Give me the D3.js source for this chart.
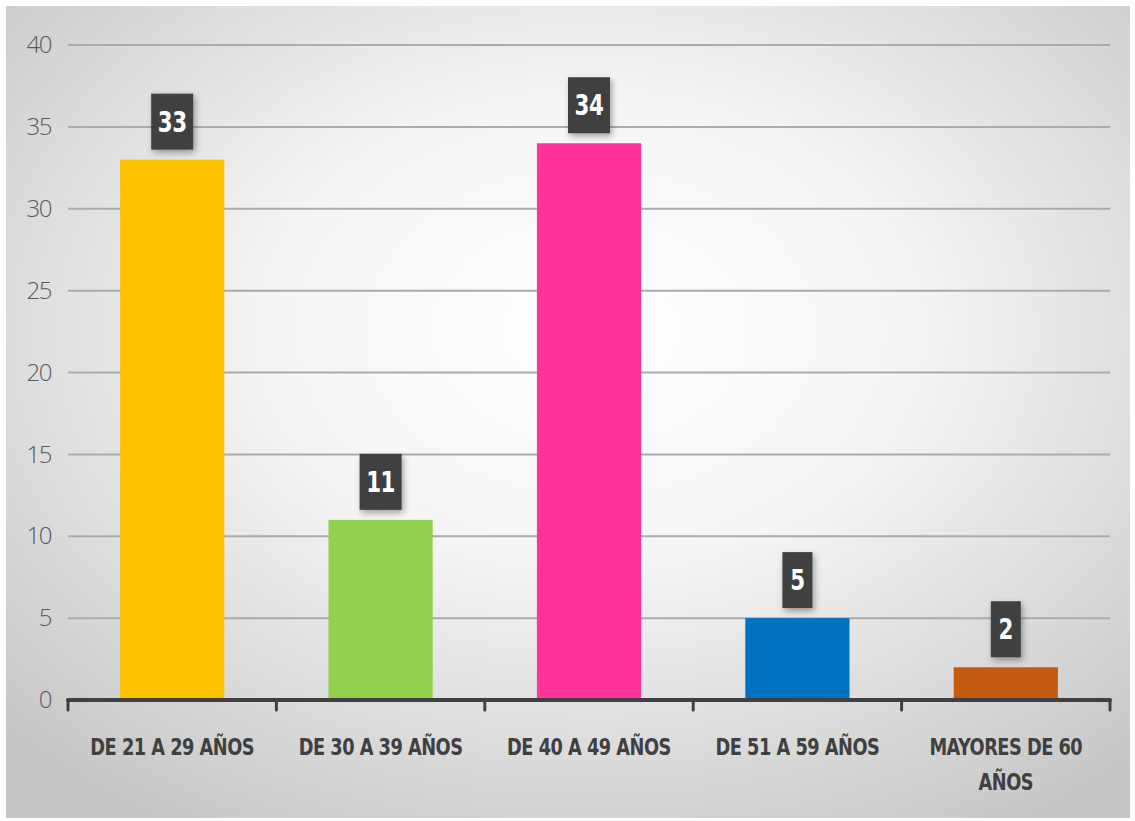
<!DOCTYPE html>
<html>
<head>
<meta charset="utf-8">
<script src="https://cdn.jsdelivr.net/npm/d3@7"></script>
<style>
  body { margin: 0; background: #fff; }
  svg { display: block; }
</style>
</head>
<body>
<div id="d3-container"></div>
<script>
const categories = ["DE 21 A 29 AÑOS", "DE 30 A 39 AÑOS", "DE 40 A 49 AÑOS", "DE 51 A 59 AÑOS", "MAYORES DE 60 AÑOS"];
const values = [33, 11, 34, 5, 2];
const barColors = ["#FFC000", "#92D050", "#FF3399", "#0070C0", "#C55A11"];
const yTicks = [0, 5, 10, 15, 20, 25, 30, 35, 40];

const W = 1135, H = 821;
const mLeft = 68, mRight = 1110, mTop = 45, mBottom = 700;
const condensed = "'Liberation Sans Narrow', 'DejaVu Sans Condensed', 'Open Sans', sans-serif";

const svg = d3.select("#d3-container")
  .append("svg")
  .attr("width", W)
  .attr("height", H);

const defs = svg.append("defs");
const bg = defs.append("radialGradient").attr("id", "bg")
  .attr("cx", "52%").attr("cy", "40%").attr("r", "72%");
bg.append("stop").attr("offset", "0%").attr("stop-color", "#ffffff");
bg.append("stop").attr("offset", "40%").attr("stop-color", "#f5f5f5");
bg.append("stop").attr("offset", "100%").attr("stop-color", "#c6c6c6");

const shadow = defs.append("filter").attr("id", "shadow")
  .attr("x", "-40%").attr("y", "-40%").attr("width", "180%").attr("height", "180%");
shadow.append("feDropShadow").attr("dx", 2).attr("dy", 3).attr("stdDeviation", 3)
  .attr("flood-color", "#000").attr("flood-opacity", 0.35);

svg.append("rect")
  .attr("x", 6).attr("y", 6).attr("width", W - 11).attr("height", H - 9)
  .attr("fill", "url(#bg)");

const x = d3.scaleBand().domain(categories).range([mLeft, mRight]).paddingInner(0).paddingOuter(0);
const y = d3.scaleLinear().domain([0, 40]).range([mBottom, mTop]);

// gridlines
svg.append("g")
  .selectAll("line")
  .data(yTicks.filter(d => d > 0))
  .join("line")
  .attr("x1", mLeft).attr("x2", mRight)
  .attr("y1", d => y(d)).attr("y2", d => y(d))
  .attr("stroke", "#ababab")
  .attr("stroke-width", 2);

// y axis labels
const yAxis = d3.axisLeft(y).tickValues(yTicks).tickSize(0).tickPadding(0);
const gy = svg.append("g").attr("transform", `translate(${mLeft - 17},0)`).call(yAxis);
gy.select(".domain").remove();
gy.selectAll("text")
  .style("font-family", "'Open Sans', sans-serif")
  .style("font-weight", "300")
  .style("font-size", "24px")
  .style("letter-spacing", "-1.5px")
  .attr("fill", "#595959");

// bars
const bw = x.bandwidth() * 0.5;
svg.append("g")
  .selectAll("rect")
  .data(values)
  .join("rect")
  .attr("x", (d, i) => x(categories[i]) + (x.bandwidth() - bw) / 2)
  .attr("y", d => y(d))
  .attr("width", bw)
  .attr("height", d => mBottom - y(d))
  .attr("fill", (d, i) => barColors[i]);

// x axis
const xAxis = d3.axisBottom(x).tickSize(0).tickFormat("");
const gx = svg.append("g").attr("transform", `translate(0,${mBottom})`).call(xAxis);
gx.select(".domain").remove();
gx.append("line")
  .attr("x1", mLeft).attr("x2", mRight).attr("y1", 0).attr("y2", 0)
  .attr("stroke", "#404040").attr("stroke-width", 4).attr("stroke-linecap", "round");
const bounds = categories.map(c => x(c)).concat([mRight]);
gx.selectAll(".bound")
  .data(bounds)
  .join("line")
  .attr("class", "bound")
  .attr("x1", d => d).attr("x2", d => d)
  .attr("y1", 0).attr("y2", 10)
  .attr("stroke", "#404040").attr("stroke-width", 3).attr("stroke-linecap", "round");

// category labels (condensed by a horizontal scale)
const labelLines = [["DE 21 A 29 AÑOS"], ["DE 30 A 39 AÑOS"], ["DE 40 A 49 AÑOS"], ["DE 51 A 59 AÑOS"], ["MAYORES DE 60", "AÑOS"]];
const lab = svg.append("g")
  .selectAll("text")
  .data(categories)
  .join("text")
  .attr("transform", d => `translate(${x(d) + x.bandwidth() / 2},${mBottom + 55}) scale(0.86,1)`)
  .attr("text-anchor", "middle")
  .style("font-family", condensed)
  .style("font-weight", "bold")
  .style("font-size", "23px")
  .style("letter-spacing", "-0.6px")
  .attr("fill", "#404040");
lab.each(function(d, i) {
  d3.select(this).selectAll("tspan")
    .data(labelLines[i])
    .join("tspan")
    .attr("x", 0)
    .attr("dy", (t, j) => j === 0 ? 0 : 35)
    .text(t => t);
});

// value labels
const vl = svg.append("g")
  .selectAll("g")
  .data(values)
  .join("g")
  .attr("transform", (d, i) => `translate(${x(categories[i]) + x.bandwidth() / 2},${y(d) - 10})`);
vl.append("rect")
  .attr("x", d => String(d).length > 1 ? -21 : -15)
  .attr("y", -56)
  .attr("width", d => String(d).length > 1 ? 42 : 30)
  .attr("height", 56)
  .attr("fill", "#404040")
  .attr("filter", "url(#shadow)");
vl.append("text")
  .attr("transform", "translate(0,-18) scale(0.82,1)")
  .attr("text-anchor", "middle")
  .style("font-family", condensed)
  .style("font-weight", "bold")
  .style("font-size", "29px")
  .style("letter-spacing", "-0.5px")
  .attr("fill", "#ffffff")
  .text(d => d);
</script>
</body>
</html>
